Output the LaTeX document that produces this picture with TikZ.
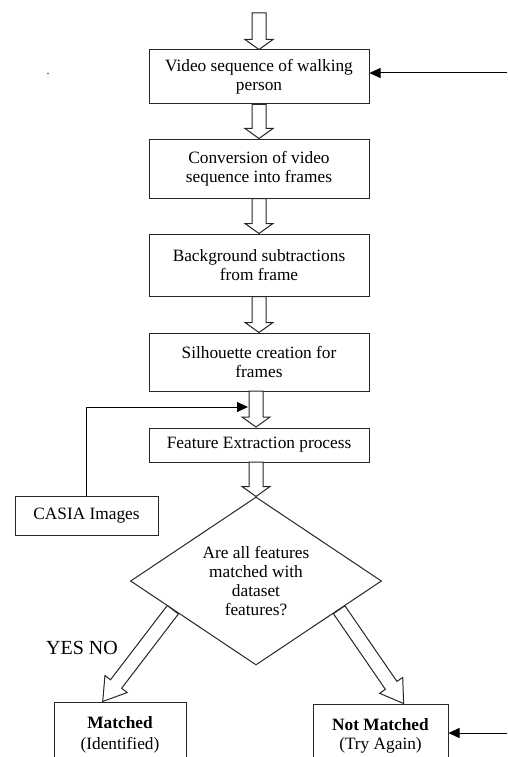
\documentclass[tikz,border=0pt]{standalone}
\usepackage{fontspec}
\setmainfont{Liberation Serif}
\usetikzlibrary{calc,arrows.meta,shapes.geometric}
\tikzset{
  box/.style={draw=black!85, line width=1pt, rectangle, inner sep=0pt, align=center, fill=white},
  hollow/.style={draw=black!85, fill=white, line width=1pt, line join=miter, to path={
     ($(\tikztostart)!7pt!90:(\tikztotarget)$)
     -- ($(\tikztotarget)!#1!(\tikztostart)!7pt!-90:(\tikztostart)$)
     -- ($(\tikztotarget)!#1!(\tikztostart)!14pt!-90:(\tikztostart)$)
     -- (\tikztotarget)
     -- ($(\tikztotarget)!#1!(\tikztostart)!14pt!90:(\tikztostart)$)
     -- ($(\tikztotarget)!#1!(\tikztostart)!7pt!90:(\tikztostart)$)
     -- ($(\tikztostart)!7pt!-90:(\tikztotarget)$)
     -- cycle}},
  hollow/.default=10pt,
  line/.style={draw=black, line width=1pt, -{Triangle[length=11pt,width=10pt]}}
}
\begin{document}
\begin{tikzpicture}[x=1pt,y=-1pt, font=\fontsize{17.3}{19}\selectfont]
\useasboundingbox (0,0) rectangle (507,757);
\clip (0,0) rectangle (507,757);
% boxes
\node[box, minimum width=220pt, minimum height=54pt] (box1) at (259,77) {Video sequence of walking\\person};
\node[box, minimum width=220pt, minimum height=59pt] (box2) at (259,168.5) {Conversion of video\\sequence into frames};
\node[box, minimum width=220pt, minimum height=62pt] (box3) at (259,265) {Background subtractions\\from frame};
\node[box, minimum width=220pt, minimum height=58pt] (box4) at (259,362) {Silhouette creation for\\frames};
\node[box, minimum width=220pt, minimum height=34pt] (box5) at (259,445) {Feature Extraction process};
\node[box, minimum width=143pt, minimum height=39pt] (casia) at (86.5,515.5) {CASIA Images};
\node[draw=black!85, line width=1pt, diamond, minimum width=251pt, minimum height=168pt, inner sep=0pt, aspect=1.5, align=center] (dec) at (256,581) {Are all features\\matched with\\dataset\\features?};
\node[box, minimum width=132pt, minimum height=110pt,
  label={[align=center, anchor=north, inner sep=0pt, yshift=-15pt, font=\fontsize{17.3}{20.5}\selectfont]north:{\textbf{Matched}\\(Identified)}}] (matched) at (120,757) {};
\node[box, minimum width=135pt, minimum height=110pt,
  label={[align=center, anchor=north, inner sep=0pt, yshift=-15pt, font=\fontsize{17.3}{18.5}\selectfont]north:{\textbf{Not Matched}\\(Try Again)}}] (notmatched) at (380.5,759) {};
\node[font=\fontsize{20}{22}\selectfont] (yesno) at (82,648) {YES NO};
\node[font=\fontsize{12}{12}\selectfont] (dot) at (48,74) {.};
% coordinates
\coordinate (top) at (259,13);
\coordinate (in1) at (507,73);
\coordinate (in2) at (507,733);
\coordinate (cas) at (248,407);
\coordinate (b4) at (256,391);
\coordinate (b5t) at (256,427);
\coordinate (b5b) at (256,462);
% hollow arrows
\draw[hollow] (top) to (box1.north);
\draw[hollow] (box1.south) to (box2.north);
\draw[hollow] (box2.south) to (box3.north);
\draw[hollow] (box3.south) to (box4.north);
\draw[hollow] (b4) to (b5t);
\draw[hollow] (b5b) to (dec.north);
\draw[hollow=22pt] ($(dec.west)!0.34!(dec.south)$) to ($(matched.north west)!0.37!(matched.north east)$);
\draw[hollow=22pt] ($(dec.east)!0.34!(dec.south)$) to ($(notmatched.north west)!0.67!(notmatched.north east)$);
% line arrows
\draw[line] (in1) -- (box1.east |- in1);
\draw[line] (in2) -- (notmatched.east |- in2);
\draw[line] (casia.north) |- (cas);
\end{tikzpicture}
\end{document}
